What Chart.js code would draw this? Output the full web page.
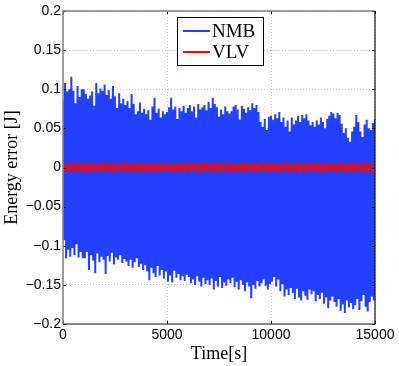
<!DOCTYPE html>
<html>
<head>
<meta charset="utf-8">
<script src="https://cdn.jsdelivr.net/npm/chart.js@4.4.1/dist/chart.umd.min.js"></script>
<style>
  html, body { margin: 0; padding: 0; background: #fff; }
</style>
</head>
<body>
<canvas id="chart" width="399" height="366"></canvas>
<script>
// legend names
const seriesNames = ['NMB', 'VLV'];

// axis ticks
const xTickLabels = ['0', '5000', '10000', '15000'];
const yTickLabels = ['\u22120.2', '\u22120.15', '\u22120.1', '\u22120.05', '0', '0.05', '0.1', '0.15', '0.2'];

// NMB energy error: upper peaks every 100 s (t = 0..15000), troughs in between
const nmbStep = 100;
const nmbPeaks = [
  0.086, 0.108, 0.097, 0.100, 0.116, 0.098, 0.082, 0.104, 0.090, 0.100,
  0.100, 0.094, 0.088, 0.092, 0.097, 0.079, 0.108, 0.095, 0.101, 0.098,
  0.106, 0.093, 0.099, 0.088, 0.104, 0.091, 0.076, 0.095, 0.082, 0.088,
  0.080, 0.085, 0.076, 0.094, 0.081, 0.068, 0.072, 0.083, 0.070, 0.075,
  0.068, 0.073, 0.061, 0.078, 0.089, 0.070, 0.075, 0.064, 0.072, 0.068,
  0.071, 0.077, 0.089, 0.074, 0.078, 0.062, 0.076, 0.072, 0.079, 0.070,
  0.076, 0.080, 0.072, 0.078, 0.064, 0.081, 0.074, 0.077, 0.080, 0.073,
  0.084, 0.076, 0.089, 0.081, 0.077, 0.065, 0.074, 0.068, 0.078, 0.072,
  0.069, 0.072, 0.078, 0.080, 0.074, 0.061, 0.079, 0.075, 0.070, 0.077,
  0.073, 0.082, 0.076, 0.080, 0.071, 0.058, 0.052, 0.062, 0.048, 0.065,
  0.066, 0.061, 0.068, 0.063, 0.071, 0.058, 0.064, 0.052, 0.060, 0.046,
  0.064, 0.055, 0.060, 0.066, 0.058, 0.067, 0.063, 0.068, 0.060, 0.054,
  0.058, 0.052, 0.060, 0.055, 0.064, 0.058, 0.050, 0.062, 0.066, 0.071,
  0.069, 0.063, 0.070, 0.067, 0.056, 0.044, 0.050, 0.038, 0.033, 0.046,
  0.052, 0.067, 0.058, 0.046, 0.039, 0.055, 0.061, 0.050, 0.048, 0.057,
  0.062
];
const nmbTroughs = [
  -0.093, -0.116, -0.105, -0.114, -0.103, -0.112, -0.098, -0.115, -0.108, -0.116,
  -0.116, -0.108, -0.131, -0.112, -0.119, -0.135, -0.110, -0.121, -0.114, -0.118,
  -0.136, -0.113, -0.120, -0.109, -0.124, -0.115, -0.118, -0.112, -0.122, -0.117,
  -0.120, -0.126, -0.118, -0.128, -0.121, -0.116, -0.127, -0.123, -0.131, -0.125,
  -0.133, -0.144, -0.128, -0.135, -0.140, -0.126, -0.138, -0.131, -0.142, -0.133,
  -0.146, -0.138, -0.147, -0.132, -0.141, -0.136, -0.144, -0.139, -0.145, -0.137,
  -0.140, -0.148, -0.143, -0.150, -0.139, -0.146, -0.152, -0.141, -0.149, -0.144,
  -0.150, -0.142, -0.156, -0.145, -0.152, -0.140, -0.154, -0.147, -0.151, -0.143,
  -0.148, -0.141, -0.153, -0.146, -0.156, -0.144, -0.150, -0.158, -0.147, -0.152,
  -0.167, -0.150, -0.155, -0.145, -0.152, -0.148, -0.143, -0.151, -0.156, -0.149,
  -0.146, -0.140, -0.152, -0.143, -0.158, -0.149, -0.165, -0.156, -0.163, -0.154,
  -0.160, -0.168, -0.155, -0.166, -0.170, -0.158, -0.164, -0.169, -0.156, -0.162,
  -0.158, -0.171, -0.163, -0.168, -0.160, -0.174, -0.166, -0.180, -0.170, -0.165,
  -0.172, -0.178, -0.168, -0.183, -0.175, -0.186, -0.170, -0.179, -0.173, -0.181,
  -0.176, -0.168, -0.182, -0.171, -0.163, -0.178, -0.184, -0.172, -0.165, -0.170
];

// VLV energy error: tiny oscillation around zero, peaks every 250 s
const vlvStep = 250;
const vlvPeaks = [
  0.0042, 0.0036, 0.0039, 0.0034, 0.0040, 0.0035, 0.0038, 0.0033, 0.0041, 0.0036,
  0.0037, 0.0034, 0.0040, 0.0035, 0.0038, 0.0036, 0.0033, 0.0039, 0.0035, 0.0041,
  0.0036, 0.0034, 0.0038, 0.0035, 0.0040, 0.0033, 0.0037, 0.0039, 0.0034, 0.0036,
  0.0040, 0.0035, 0.0038, 0.0033, 0.0036, 0.0041, 0.0034, 0.0037, 0.0035, 0.0039,
  0.0036, 0.0033, 0.0038, 0.0040, 0.0035, 0.0037, 0.0034, 0.0039, 0.0036, 0.0038,
  0.0035, 0.0040, 0.0034, 0.0037, 0.0039, 0.0035, 0.0038, 0.0036, 0.0041, 0.0034,
  0.0037
];
const vlvTroughs = [
  -0.0032, -0.0035, -0.0031, -0.0034, -0.0033, -0.0036, -0.0031, -0.0034, -0.0032, -0.0035,
  -0.0033, -0.0031, -0.0035, -0.0032, -0.0034, -0.0036, -0.0032, -0.0033, -0.0035, -0.0031,
  -0.0034, -0.0032, -0.0036, -0.0033, -0.0031, -0.0035, -0.0034, -0.0032, -0.0033, -0.0035,
  -0.0031, -0.0034, -0.0036, -0.0032, -0.0035, -0.0033, -0.0031, -0.0034, -0.0032, -0.0036,
  -0.0033, -0.0035, -0.0032, -0.0034, -0.0031, -0.0036, -0.0033, -0.0032, -0.0035, -0.0034,
  -0.0032, -0.0033, -0.0035, -0.0031, -0.0034, -0.0036, -0.0032, -0.0033, -0.0035, -0.0034
];

// put troughs half a step after each peak
function zigzag(peaks, troughs, step) {
  const pts = [];
  peaks.forEach((p, i) => {
    pts.push({ x: i * step, y: p });
    if (i < troughs.length) pts.push({ x: i * step + step / 2, y: troughs[i] });
  });
  return pts;
}

const tickFont = { family: '"Liberation Sans", Arial, sans-serif', size: 14 };
const serif = '"Liberation Serif", "Times New Roman", serif';

// full box with inward ticks, like matlab
const boxPlugin = {
  id: 'box',
  afterDatasetsDraw(chart) {
    const { ctx, chartArea: a, scales } = chart;
    const tl = 3;
    ctx.save();
    ctx.strokeStyle = '#000';
    ctx.lineWidth = 1;
    ctx.beginPath();
    scales.x.ticks.forEach(t => {
      const px = Math.round(scales.x.getPixelForValue(t.value)) + 0.5;
      ctx.moveTo(px, a.bottom); ctx.lineTo(px, a.bottom - tl);
      ctx.moveTo(px, a.top); ctx.lineTo(px, a.top + tl);
    });
    scales.y.ticks.forEach(t => {
      const py = Math.round(scales.y.getPixelForValue(t.value)) + 0.5;
      ctx.moveTo(a.left, py); ctx.lineTo(a.left + tl, py);
      ctx.moveTo(a.right, py); ctx.lineTo(a.right - tl, py);
    });
    ctx.stroke();

    ctx.lineWidth = 1.5;
    ctx.strokeStyle = '#808080';
    ctx.beginPath();
    ctx.moveTo(a.left, a.bottom); ctx.lineTo(a.left, a.top); ctx.lineTo(a.right, a.top);
    ctx.stroke();
    ctx.strokeStyle = '#1a1a1a';
    ctx.lineWidth = 1.2;
    ctx.beginPath();
    ctx.moveTo(a.left, a.bottom); ctx.lineTo(a.right, a.bottom); ctx.lineTo(a.right, a.top);
    ctx.stroke();
    ctx.restore();
  },
  afterDraw(chart) {
    // legend box inside the axes
    const { ctx, chartArea: a } = chart;
    const x0 = a.left + 114, y0 = a.top + 6, w = 86, h = 48;
    ctx.save();
    ctx.fillStyle = '#fff';
    ctx.fillRect(x0, y0, w, h);
    ctx.strokeStyle = '#000';
    ctx.lineWidth = 1;
    ctx.strokeRect(x0 + 0.5, y0 + 0.5, w, h);
    ctx.font = '19px ' + serif;
    ctx.textBaseline = 'middle';
    ctx.fillStyle = '#000';
    seriesNames.forEach((name, i) => {
      const ds = chart.data.datasets.find(d => d.label === name);
      const yy = y0 + 14 + i * 21;
      ctx.strokeStyle = ds.borderColor;
      ctx.lineWidth = 2;
      ctx.beginPath();
      ctx.moveTo(x0 + 6, yy); ctx.lineTo(x0 + 33, yy);
      ctx.stroke();
      ctx.fillText(name, x0 + 35, yy + 1);
    });
    ctx.restore();
  }
};

new Chart(document.getElementById('chart'), {
  type: 'line',
  data: {
    datasets: [
      {
        label: seriesNames[0],
        data: zigzag(nmbPeaks, nmbTroughs, nmbStep),
        borderColor: '#2340ff',
        borderWidth: 2,
        borderJoinStyle: 'bevel',
        pointRadius: 0,
        tension: 0,
        order: 2
      },
      {
        label: seriesNames[1],
        data: zigzag(vlvPeaks, vlvTroughs, vlvStep),
        borderColor: '#ff0000',
        borderWidth: 2.8,
        pointRadius: 0,
        tension: 0,
        order: 1
      }
    ]
  },
  options: {
    responsive: false,
    animation: false,
    events: [],
    layout: { padding: { left: 0, top: 11, right: 24, bottom: 0 } },
    plugins: {
      legend: { display: false },
      tooltip: { enabled: false }
    },
    scales: {
      x: {
        type: 'linear',
        min: 0,
        max: 15000,
        afterFit: s => { s.height = 42; },
        ticks: {
          stepSize: 5000,
          autoSkip: false,
          maxRotation: 0,
          padding: 3,
          color: '#000',
          font: tickFont,
          callback: (v, i) => xTickLabels[i]
        },
        grid: { color: '#c4c4c4', lineWidth: 1, drawTicks: false },
        border: { display: false, dash: [1, 2] },
        title: {
          display: true,
          text: 'Time[s]',
          color: '#000',
          font: { family: serif, size: 18 },
          padding: { top: 0, bottom: 1 }
        }
      },
      y: {
        type: 'linear',
        min: -0.2,
        max: 0.2,
        afterFit: s => { s.width = 63; },
        ticks: {
          stepSize: 0.05,
          autoSkip: false,
          padding: 2,
          color: '#000',
          font: tickFont,
          callback: (v, i) => yTickLabels[i]
        },
        grid: { color: '#c4c4c4', lineWidth: 1, drawTicks: false },
        border: { display: false, dash: [1, 2] },
        title: {
          display: true,
          text: 'Energy error [J]',
          color: '#000',
          font: { family: serif, size: 18 },
          padding: { top: 1, bottom: 0 }
        }
      }
    }
  },
  plugins: [boxPlugin]
});
</script>
</body>
</html>
